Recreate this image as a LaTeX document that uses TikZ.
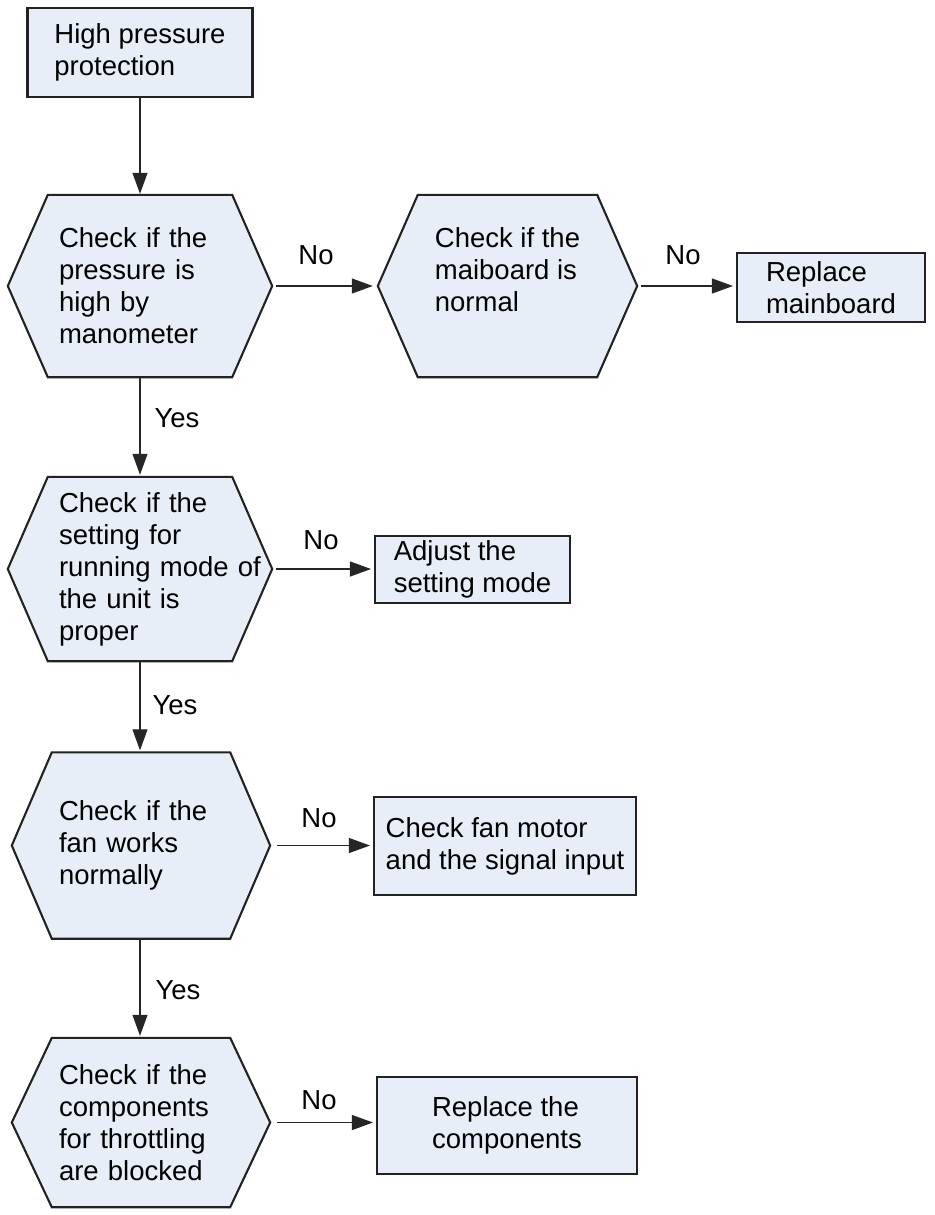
\documentclass[tikz,border=0pt]{standalone}
\usepackage{fontspec}
\setmainfont{Liberation Sans}
\usetikzlibrary{arrows.meta,backgrounds}
\definecolor{boxfill}{HTML}{E8EEF8}
\definecolor{boxline}{HTML}{222222}

\begin{document}
\begin{tikzpicture}[x=1pt,y=-1pt,
    every node/.style={font=\fontsize{27.5}{32}\selectfont},
    box/.style={draw=boxline,fill=boxfill,line width=2.1pt,inner sep=0pt,align=left},
    hexbox/.style={inner sep=0pt,align=left},
    hexline/.style={draw=boxline,fill=boxfill,line width=2.1pt},
    link/.style={line width=1.1pt,draw=black!85,-{Triangle[length=21pt,width=15pt]}},
    lbl/.style={inner sep=0pt}]

    \useasboundingbox (0,0) rectangle (934,1215);

    % -- Start --
    \node[box,minimum width=225,minimum height=89] (start) at (140,52.5) {High pressure\\protection};

    % -- Checks (hexagons) --
    \node[hexbox,minimum width=264,minimum height=182,text width=162] (chk1) at (140,286)
        {Check if the\\pressure is\\high by\\manometer};
    \node[hexbox,minimum width=259,minimum height=182] (chk2) at (507.5,286)
        {Check if the\\maiboard is\\normal\\ \mbox{}};
    \node[hexbox,minimum width=264,minimum height=184,text width=162] (chk3) at (140,569)
        {Check if the\\setting for\\\mbox{running mode of}\\the unit is\\proper};
    \node[hexbox,minimum width=258,minimum height=186,text width=164] (chk4) at (141,845.5)
        {Check if the\\fan works\\normally};
    \node[hexbox,minimum width=258,minimum height=169,text width=164] (chk5) at (141,1122.5)
        {Check if the\\components\\for throttling\\are blocked};

    % -- Actions --
    \node[box,minimum width=188,minimum height=69] (repmain) at (831,287.5) {Replace\\mainboard};
    \node[box,minimum width=195,minimum height=67] (adjust) at (472.5,569.5) {Adjust the\\setting mode};
    \node[box,minimum width=262,minimum height=98] (fanmotor) at (505,846) {Check fan motor\\and the signal input};
    \node[box,minimum width=260,minimum height=97] (repcomp) at (507,1125.5) {Replace the\\components};

    % -- Hexagon outlines --
    \begin{scope}[on background layer]
        \foreach \h in {chk1,chk2,chk3,chk4,chk5}
            \draw[hexline] (\h.west) -- ([xshift=40pt]\h.north west) -- ([xshift=-40pt]\h.north east)
                -- (\h.east) -- ([xshift=-40pt]\h.south east) -- ([xshift=40pt]\h.south west) -- cycle;
    \end{scope}

    % -- Arrows --
    \draw[link,shorten >=1pt] (start.south) -- (chk1.north);
    \draw[link,shorten <=4pt,shorten >=5pt] (chk1.east) -- (chk2.west);
    \draw[link,shorten <=4pt,shorten >=3pt] (chk2.east) -- (repmain.west |- chk2.east);
    \draw[link,shorten >=2pt] (chk1.south) -- (chk3.north);
    \draw[link,shorten <=4pt,shorten >=3pt] (chk3.east) -- (adjust.west |- chk3.east);
    \draw[link,shorten >=2pt] (chk3.south) -- (chk4.north -| chk3.south);
    \draw[link,shorten <=7pt,shorten >=3pt] (chk4.east) -- (fanmotor.west |- chk4.east);
    \draw[link,shorten >=2pt] (chk4.south -| chk3.south) -- (chk5.north -| chk3.south);
    \draw[link,shorten <=7pt,shorten >=3pt] (chk5.east) -- (repcomp.west |- chk5.east);

    % -- Labels --
    \node[lbl] (no1) at (316,255) {No};
    \node[lbl] (no2) at (683,255) {No};
    \node[lbl] (no3) at (321,540) {No};
    \node[lbl] (no4) at (319,818) {No};
    \node[lbl] (no5) at (319,1100) {No};
    \node[lbl] (yes1) at (177,418) {Yes};
    \node[lbl] (yes2) at (175,705) {Yes};
    \node[lbl] (yes3) at (178,990) {Yes};
\end{tikzpicture}
\end{document}
